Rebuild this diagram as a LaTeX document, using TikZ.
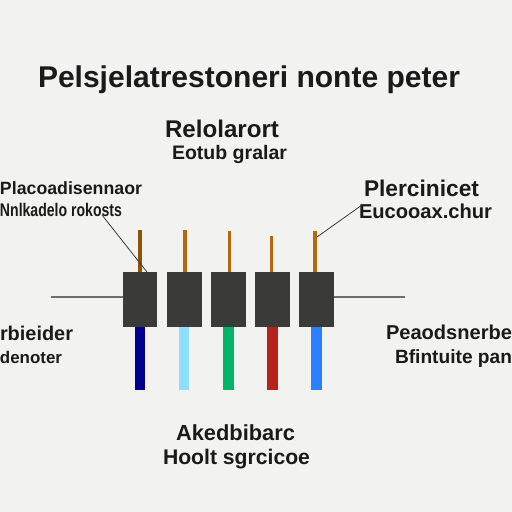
\documentclass[tikz,border=0pt]{standalone}
\usepackage{fontspec}
\setmainfont{Liberation Sans}
\definecolor{bgc}{HTML}{F2F2F1}
\definecolor{boxc}{HTML}{3A3A38}
\definecolor{leadc}{HTML}{B5690F}
\definecolor{leadd}{HTML}{8E5208}
\definecolor{inkc}{HTML}{1A1A1A}
\definecolor{linec}{HTML}{6E6E6E}
\definecolor{wa}{HTML}{00008F}
\definecolor{wb}{HTML}{8FDDFF}
\definecolor{wc}{HTML}{00B56A}
\definecolor{wd}{HTML}{B5231C}
\definecolor{we}{HTML}{2A80FF}
\newcommand{\fitw}[2]{\resizebox{#1pt}{!}{\bfseries\strut #2}}
\tikzset{
  x=1pt,y=-1pt,
  lbl/.style={anchor=base west,inner sep=0pt,outer sep=0pt,text=inkc},
  body/.style={fill=boxc,draw=none,minimum height=55pt,inner sep=0pt,anchor=north west},
  lead/.style={fill=leadc,draw=none},
  conn/.style={draw=linec,line width=1.2pt},
  leader/.style={draw=boxc,line width=0.8pt}
}
\begin{document}
\begin{tikzpicture}
\useasboundingbox (0,0) rectangle (512,512);
\fill[bgc] (0,0) rectangle (512,512);
% title and labels
\node[lbl] (title) at (38,87) {\fitw{422}{Pelsjelatrestoneri nonte peter}};
\node[lbl] (t1) at (165,137) {\fitw{114}{Relolarort}};
\node[lbl] (t2) at (172,159) {\fitw{115}{Eotub gralar}};
\node[lbl] (l1) at (0,194) {\fitw{142}{Placoadisennaor}};
\node[lbl] (l2) at (0,216) {\scalebox{1}[1.3]{\fitw{122}{Nnlkadelo rokosts}}};
\node[lbl] (r1) at (364,196) {\fitw{115}{Plercinicet}};
\node[lbl] (r2) at (359,218) {\fitw{133}{Eucooax.chur}};
\node[lbl] (ll1) at (0,340) {\fitw{73}{rbieider}};
\node[lbl] (ll2) at (0,363) {\fitw{62}{denoter}};
\node[lbl] (lr1) at (386,339) {\fitw{126}{Peaodsnerbe}};
\node[lbl] (lr2) at (395,363) {\fitw{117}{Bfintuite pan}};
\node[lbl] (b1) at (176,440) {\fitw{119}{Akedbibarc}};
\node[lbl] (b2) at (163,464) {\fitw{147}{Hoolt sgrcicoe}};
% leads on top
\fill[leadd] (138,230) rectangle (141.5,272);
\fill[lead] (183.3,230) rectangle (186.8,272);
\fill[lead] (227.7,230.5) rectangle (231.2,272);
\fill[lead] (269.7,236) rectangle (273.2,272);
\fill[lead] (313.3,230.5) rectangle (316.8,272);
% coloured wires
\fill[wa] (134.7,327) rectangle (145.3,390);
\fill[wb] (178.7,327) rectangle (189.3,390);
\fill[wc] (223,327) rectangle (234,390);
\fill[wd] (267,327) rectangle (278,390);
\fill[we] (311,327) rectangle (321.5,390);
% bodies
\node[body,minimum width=34pt] (c1) at (123,272) {};
\node[body,minimum width=35pt] (c2) at (166.7,272) {};
\node[body,minimum width=35pt] (c3) at (210.5,272) {};
\node[body,minimum width=35pt] (c4) at (254.7,272) {};
\node[body,minimum width=35pt] (c5) at (298.5,272) {};
% side lines
\coordinate (lend) at (51,297);
\coordinate (rend) at (405,297);
\draw[conn] (lend) -- (c1.west |- lend);
\draw[conn] (c5.east |- rend) -- (rend);
% leaders
\coordinate (la) at (102,215);
\coordinate (lb) at (147,272);
\coordinate (ra) at (362,205);
\coordinate (rb) at (317,237);
\draw[leader] (la) -- (lb);
\draw[leader] (ra) -- (rb);
\end{tikzpicture}
\end{document}
